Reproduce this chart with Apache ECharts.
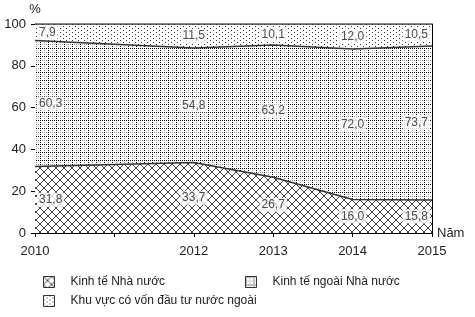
<!DOCTYPE html>
<html>
<head>
<meta charset="utf-8">
<script src="https://cdn.jsdelivr.net/npm/echarts@6/dist/echarts.min.js"></script>
<style>
  html, body { margin: 0; padding: 0; background: #fff; }
  #main { width: 475px; height: 317px; }
</style>
</head>
<body>
<div id="main"></div>
<script>
// data
const years = [2010, 2012, 2013, 2014, 2015];
const nhaNuoc = [31.8, 33.7, 26.7, 16.0, 15.8];
const ngoaiNhaNuoc = [60.3, 54.8, 63.2, 72.0, 73.7];
const fdi = [7.9, 11.5, 10.1, 12.0, 10.5];
const names = ['Kinh tế Nhà nước', 'Kinh tế ngoài Nhà nước', 'Khu vực có vốn đầu tư nước ngoài'];

const FONT = '"Liberation Sans", Arial, sans-serif';

// pattern tiles
function tile(w, h, draw) {
    const c = document.createElement('canvas');
    c.width = w; c.height = h;
    const ctx = c.getContext('2d');
    ctx.fillStyle = '#fff';
    ctx.fillRect(0, 0, w, h);
    draw(ctx);
    return { image: c, repeat: 'repeat' };
}
const crossHatch = tile(8, 8, (ctx) => {
    ctx.strokeStyle = '#444';
    ctx.lineWidth = 1;
    ctx.beginPath();
    ctx.moveTo(0, 0); ctx.lineTo(8, 8);
    ctx.moveTo(8, 0); ctx.lineTo(0, 8);
    ctx.stroke();
});
const gridPat = tile(8, 8, (ctx) => {
    ctx.fillStyle = '#999';
    for (let i = 0; i < 8; i += 2) {
        ctx.fillRect(4, i, 1, 1);
        ctx.fillRect(i, 4, 1, 1);
    }
    ctx.fillStyle = '#000';
    for (let i = 0; i < 8; i += 2) {
        ctx.fillRect(0, i, 1, 1);
        ctx.fillRect(i, 0, 1, 1);
    }
});
const dots = tile(6, 4, (ctx) => {
    ctx.fillStyle = '#333';
    ctx.fillRect(0, 0, 1, 1);
    ctx.fillRect(3, 2, 1, 1);
});
const patterns = [crossHatch, gridPat, dots];
const values = [nhaNuoc, ngoaiNhaNuoc, fdi];

// stacking done by hand (echarts stacks the x dimension when both axes are value axes)
const cumul = [];
values.forEach((arr, k) => {
    cumul.push(arr.map((v, i) => +(v + (k ? cumul[k - 1][i] : 0)).toFixed(1)));
});

const areaSeries = values.map((arr, k) => ({
    name: names[k],
    type: 'line',
    showSymbol: false,
    silent: true,
    data: years.map((y, i) => [y, cumul[k][i]]),
    lineStyle: { color: '#333', width: 1.5 },
    areaStyle: { color: patterns[k], opacity: 1, origin: 'start' },
    z: 4 - k
}));

// value labels, placed in the middle of each band
const labelData = [];
years.forEach((y, i) => {
    values.forEach((arr, k) => {
        const v = arr[i];
        const item = { value: [y, cumul[k][i] - v / 2], txt: v.toFixed(1).replace('.', ',') };
        if (i === 0) item.label = { position: 'right', distance: 2 };
        if (i === years.length - 1) item.label = { position: 'left', distance: 2 };
        labelData.push(item);
    });
});

const legendBase = {
    icon: 'rect',
    itemWidth: 11,
    itemHeight: 11,
    padding: 0,
    selectedMode: false,
    textStyle: { fontFamily: FONT, fontSize: 12, color: '#222', padding: [0, 0, 0, 11] }
};
function legendItem(k) {
    return { name: names[k], icon: 'rect', itemStyle: { color: patterns[k], borderColor: '#333', borderWidth: 1 } };
}

const myChart = echarts.init(document.getElementById('main'));
const option = {
    animation: false,
    backgroundColor: '#fff',
    grid: { left: 35, right: 43, top: 24, bottom: 84 },
    legend: [
        Object.assign({ left: 43, top: 276, data: [legendItem(0)] }, legendBase),
        Object.assign({ left: 245, top: 276, data: [legendItem(1)] }, legendBase),
        Object.assign({ left: 43, top: 295, data: [legendItem(2)] }, legendBase)
    ],
    xAxis: [{
        type: 'value',
        min: 2010,
        max: 2015,
        interval: 1,
        name: 'Năm',
        nameLocation: 'end',
        nameGap: 5,
        nameTextStyle: { fontFamily: FONT, fontSize: 13, color: '#222', padding: [8, 0, 0, 0] },
        axisLine: { lineStyle: { color: '#000', width: 1 } },
        axisTick: { show: true, length: 4, lineStyle: { color: '#000' } },
        axisLabel: {
            fontFamily: FONT, fontSize: 13, color: '#222', margin: 12,
            formatter: (v) => years.indexOf(v) >= 0 ? String(v) : ''
        },
        splitLine: { show: false }
    }, {
        type: 'value',
        position: 'top',
        min: 2010,
        max: 2015,
        axisLine: { show: true, lineStyle: { color: '#000', width: 1 } },
        axisTick: { show: false },
        axisLabel: { show: false },
        splitLine: { show: false }
    }],
    yAxis: [{
        type: 'value',
        min: 0,
        max: 100,
        interval: 20,
        name: '%',
        nameLocation: 'end',
        nameGap: 8,
        nameTextStyle: { fontFamily: FONT, fontSize: 13, color: '#222', align: 'center' },
        axisLine: { show: true, lineStyle: { color: '#000', width: 1 } },
        axisTick: { show: true, length: 4, lineStyle: { color: '#000' } },
        axisLabel: { fontFamily: FONT, fontSize: 13, color: '#222', margin: 9 },
        splitLine: { show: false }
    }, {
        type: 'value',
        position: 'right',
        min: 0,
        max: 100,
        axisLine: { show: true, lineStyle: { color: '#000', width: 1 } },
        axisTick: { show: false },
        axisLabel: { show: false },
        splitLine: { show: false }
    }],
    series: areaSeries.concat([{
        type: 'scatter',
        symbolSize: 0,
        silent: true,
        z: 6,
        data: labelData,
        label: {
            show: true,
            position: 'inside',
            formatter: (p) => p.data.txt,
            fontFamily: FONT,
            fontSize: 12,
            color: '#222',
            backgroundColor: '#fff',
            padding: [1, 2]
        }
    }])
};
myChart.setOption(option);
</script>
</body>
</html>
